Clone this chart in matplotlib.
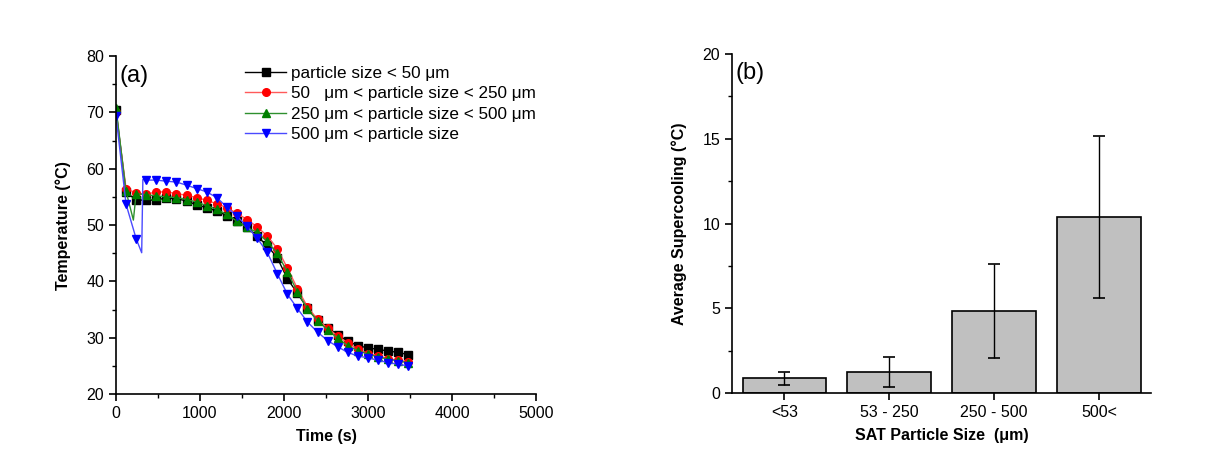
import numpy as np
import matplotlib.pyplot as plt
from matplotlib.ticker import MultipleLocator

plt.rcParams['font.family'] = ['Liberation Sans', 'DejaVu Sans']

# ---- panel (a) data: temperature vs time ----
t_std = [0, 120, 240, 360, 480, 600, 720, 840, 960, 1080, 1200, 1320, 1440, 1560,
         1680, 1800, 1920, 2040, 2160, 2280, 2400, 2520, 2640, 2760, 2880, 3000,
         3120, 3240, 3360, 3480]
T_lt50 = [70.5, 55.8, 54.5, 54.4, 54.5, 54.8, 54.7, 54.3, 53.6, 53.1, 52.5, 51.7, 50.8, 49.6,
          48.0, 46.4, 44.2, 40.5, 37.9, 35.2, 33.1, 31.8, 30.5, 29.4, 28.6, 28.2,
          27.95, 27.65, 27.4, 27.0]
T_50_250 = [70.0, 56.5, 55.7, 55.5, 55.9, 55.9, 55.6, 55.3, 54.9, 54.4, 53.8, 53.1, 52.1, 51.0,
            49.7, 48.1, 45.85, 42.4, 38.75, 35.5, 33.25, 31.7, 30.3, 29.1, 27.95, 27.2,
            26.8, 26.3, 26.0, 25.75]
t_250_500 = [0, 120, 207, 240, 360, 480, 600, 720, 840, 960, 1080, 1200, 1320, 1440, 1560,
             1680, 1800, 1920, 2040, 2160, 2280, 2400, 2520, 2640, 2760, 2880, 3000,
             3120, 3240, 3360, 3480]
T_250_500 = [70.8, 56.0, 50.9, 55.6, 55.4, 55.2, 55.0, 54.9, 54.55, 54.1, 53.45, 52.8, 51.9, 50.7, 49.6,
             48.7, 47.1, 45.0, 41.7, 38.2, 35.1, 33.0, 31.4, 29.9, 28.6, 27.7, 27.1,
             26.6, 26.2, 25.9, 25.55]
t_gt500 = [0, 120, 240, 306, 320, 360, 480, 600, 720, 840, 960, 1080, 1200, 1320, 1440, 1560,
           1680, 1800, 1920, 2040, 2160, 2280, 2400, 2520, 2640, 2760, 2880, 3000,
           3120, 3240, 3360, 3480]
T_gt500 = [69.4, 53.7, 47.6, 45.1, 58.1, 58.0, 58.0, 57.8, 57.65, 57.1, 56.5, 55.9, 54.9, 53.2, 51.6, 49.8,
           47.7, 45.2, 41.4, 37.75, 35.2, 32.8, 31.0, 29.5, 28.4, 27.4, 26.75, 26.45,
           26.0, 25.6, 25.3, 25.0]

series = [
    (t_std, T_lt50, 'black', 'black', 's', 'particle size < 50 μm'),
    (t_std, T_50_250, 'red', '#ff5a5a', 'o', '50   μm < particle size < 250 μm'),
    (t_250_500, T_250_500, 'green', '#2f902f', '^', '250 μm < particle size < 500 μm'),
    (t_gt500, T_gt500, 'blue', '#4a4aff', 'v', '500 μm < particle size'),
]

# ---- panel (b) data: average supercooling ----
sizes = ['<53', '53 - 250', '250 - 500', '500<']
supercool = [0.88, 1.24, 4.86, 10.38]
supercool_err = [0.38, 0.9, 2.77, 4.78]

fig = plt.figure(figsize=(12.12, 4.53), dpi=100)
ax1 = fig.add_axes([0.0957, 0.130, 0.3465, 0.746])
ax2 = fig.add_axes([0.604, 0.132, 0.346, 0.749])

### panel (a)
ax = ax1
for t, T, c, lc, m, lab in series:
    marks = [i for i, tt in enumerate(t) if tt % 120 == 0]  # symbols only on the regular samples
    ax.plot(t, T, color=lc, lw=1.0, marker=m, markersize=5.5, markevery=marks,
            markerfacecolor=c, markeredgecolor=c, label=lab)
ax.set_xlim(0, 5000)
ax.set_ylim(20, 80)
ax.xaxis.set_major_locator(MultipleLocator(1000))
ax.xaxis.set_minor_locator(MultipleLocator(500))
ax.yaxis.set_major_locator(MultipleLocator(10))
ax.yaxis.set_minor_locator(MultipleLocator(5))
ax.set_xlabel('Time (s)', size=11.5, weight='bold', labelpad=6)
ax.set_ylabel('Temperature (°C)', size=11.5, weight='bold', labelpad=11)
ax.text(0.008, 0.975, '(a)', transform=ax.transAxes, size=17, va='top', ha='left')
ax.legend(loc='upper left', bbox_to_anchor=(0.285, 1.0), frameon=False, fontsize=12.3,
          handlelength=2.4, handletextpad=0.3, labelspacing=0.32, borderaxespad=0.15)

### panel (b)
ax = ax2
x = np.arange(len(sizes))
ax.bar(x, supercool, width=0.8, color='#c0c0c0', edgecolor='black', linewidth=1.2,
       yerr=supercool_err, error_kw=dict(ecolor='black', elinewidth=1.0, capsize=4, capthick=1.2))
ax.set_xticks(x)
ax.set_xticklabels(sizes)
ax.set_xlim(-0.5, 3.5)
ax.set_ylim(0, 20)
ax.yaxis.set_major_locator(MultipleLocator(5))
ax.yaxis.set_minor_locator(MultipleLocator(2.5))
ax.set_xlabel('SAT Particle Size  (μm)', size=11.5, weight='bold', labelpad=6)
ax.set_ylabel('Average Supercooling (°C)', size=11.5, weight='bold', labelpad=11)
ax.text(0.008, 0.975, '(b)', transform=ax.transAxes, size=17, va='top', ha='left')

for ax in [ax1, ax2]:
    ax.spines['top'].set_visible(False)
    ax.spines['right'].set_visible(False)
    ax.spines['left'].set_linewidth(1.2)
    ax.spines['bottom'].set_linewidth(1.2)
    ax.tick_params(axis='both', which='major', labelsize=11.5, direction='out', length=5, width=1.2)
    ax.tick_params(axis='both', which='minor', direction='out', length=3, width=1.0)
ax2.tick_params(axis='x', which='minor', bottom=False)

plt.savefig('out.png', dpi=100)
